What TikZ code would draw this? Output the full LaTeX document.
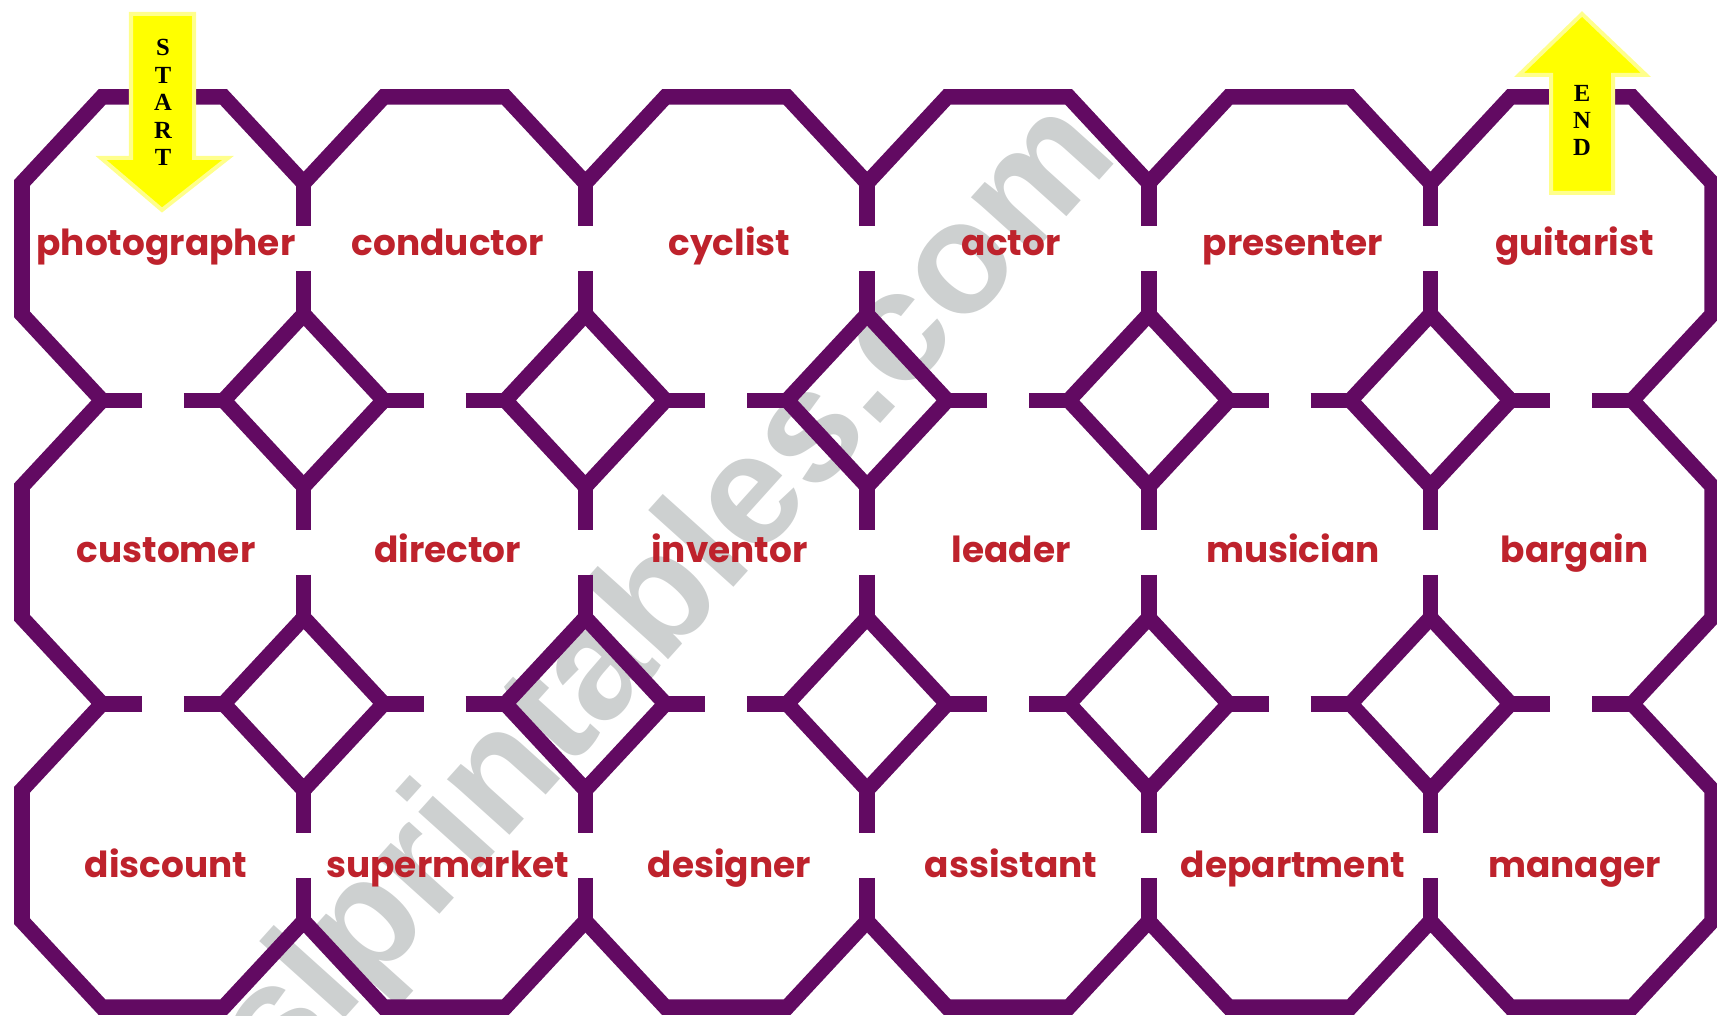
\documentclass[tikz,border=0pt]{standalone}
\usepackage{fontspec}
\setmainfont{Poppins}
\newfontfamily\signfont{Liberation Serif}
\newfontfamily\markfont{Liberation Sans}
\definecolor{wallpurple}{RGB}{98,10,98}
\definecolor{wordred}{RGB}{190,34,44}
\definecolor{signyellow}{RGB}{255,255,0}
\definecolor{markgrey}{RGB}{205,208,208}

\begin{document}
\begin{tikzpicture}[x=0.01cm, y=-0.01cm,
  wall/.style={color=wallpurple, line width=0.155cm, line join=miter},
  word/.style={color=wordred, anchor=base, font=\bfseries\fontsize{10.2}{12}\selectfont},
  sign/.style={fill=signyellow, draw=signyellow!45, line width=0.04cm},
  signletter/.style={font=\signfont\bfseries\fontsize{7}{7}\selectfont, inner sep=0pt}]
\useasboundingbox (0,0) rectangle (1717,1016);
% grid of the maze: left, top, cell size, corner cuts
\def\mx{22} \def\my{97} \def\cw{281.7} \def\ch{303.4}
\def\kx{80} \def\ky{86} \def\sh{39.8} \def\sv{43.2}

% watermark
\node[rotate=48, color=markgrey, font=\markfont\bfseries\fontsize{45}{45}\selectfont] (watermark) at (640,630) {eslprintables.com};

% outer wall
\draw[wall] (\mx,\my+\ky)
  \foreach \i in {0,...,5}{ -- (\mx+\i*\cw+\kx,\my) -- (\mx+\i*\cw+\cw-\kx,\my) -- (\mx+\i*\cw+\cw,\my+\ky) }
  \foreach \j in {1,2}{ -- (\mx+6*\cw,\my+\j*\ch-\ky) -- (\mx+6*\cw-\kx,\my+\j*\ch) -- (\mx+6*\cw,\my+\j*\ch+\ky) }
  -- (\mx+6*\cw,\my+3*\ch-\ky) -- (\mx+6*\cw-\kx,\my+3*\ch)
  \foreach \i in {5,...,1}{ -- (\mx+\i*\cw+\kx,\my+3*\ch) -- (\mx+\i*\cw,\my+3*\ch-\ky) -- (\mx+\i*\cw-\kx,\my+3*\ch) }
  -- (\mx+\kx,\my+3*\ch) -- (\mx,\my+3*\ch-\ky)
  \foreach \j in {2,1}{ -- (\mx,\my+\j*\ch+\ky) -- (\mx+\kx,\my+\j*\ch) -- (\mx,\my+\j*\ch-\ky) }
  -- cycle;

% diamonds between the octagons
\foreach \i in {1,...,5}
  \foreach \j in {1,2}
    \draw[wall] (\mx+\i*\cw-\kx,\my+\j*\ch) -- (\mx+\i*\cw,\my+\j*\ch-\ky)
      -- (\mx+\i*\cw+\kx,\my+\j*\ch) -- (\mx+\i*\cw,\my+\j*\ch+\ky) -- cycle;

% inner walls with a door in the middle
\foreach \i in {1,...,5}
  \foreach \j in {0,1,2}{
    \draw[wall] (\mx+\i*\cw,\my+\j*\ch+\ky) -- (\mx+\i*\cw,\my+\j*\ch+\ky+\sv);
    \draw[wall] (\mx+\i*\cw,\my+\j*\ch+\ch-\ky-\sv) -- (\mx+\i*\cw,\my+\j*\ch+\ch-\ky);
  }
\foreach \i in {0,...,5}
  \foreach \j in {1,2}{
    \draw[wall] (\mx+\i*\cw+\kx,\my+\j*\ch) -- (\mx+\i*\cw+\kx+\sh,\my+\j*\ch);
    \draw[wall] (\mx+\i*\cw+\cw-\kx-\sh,\my+\j*\ch) -- (\mx+\i*\cw+\cw-\kx,\my+\j*\ch);
  }

% words
\foreach \w [count=\c from 0] in {photographer,conductor,cyclist,actor,presenter,guitarist}
  \node[word] (\w) at (\mx+141+\c*\cw+3,256) {\w};
\foreach \w [count=\c from 0] in {customer,director,inventor,leader,musician,bargain}
  \node[word] (\w) at (\mx+141+\c*\cw+3,563) {\w};
\foreach \w [count=\c from 0] in {discount,supermarket,designer,assistant,department,manager}
  \node[word] (\w) at (\mx+141+\c*\cw+3,878) {\w};

% start and end signs
\filldraw[sign] (131,14) -- (194,14) -- (194,158) -- (228,158) -- (162,210)
  -- (101,158) -- (131,158) -- cycle;
\foreach \l [count=\n] in {S,T,A,R,T}
  \node[signletter] (start\n) at (163,20+27.5*\n) {\l};
\filldraw[sign] (1582,14) -- (1646,75) -- (1613,75) -- (1613,193) -- (1551,193)
  -- (1551,75) -- (1519,75) -- cycle;
\foreach \l [count=\n] in {E,N,D}
  \node[signletter] (end\n) at (1582,66+27*\n) {\l};
\end{tikzpicture}
\end{document}
